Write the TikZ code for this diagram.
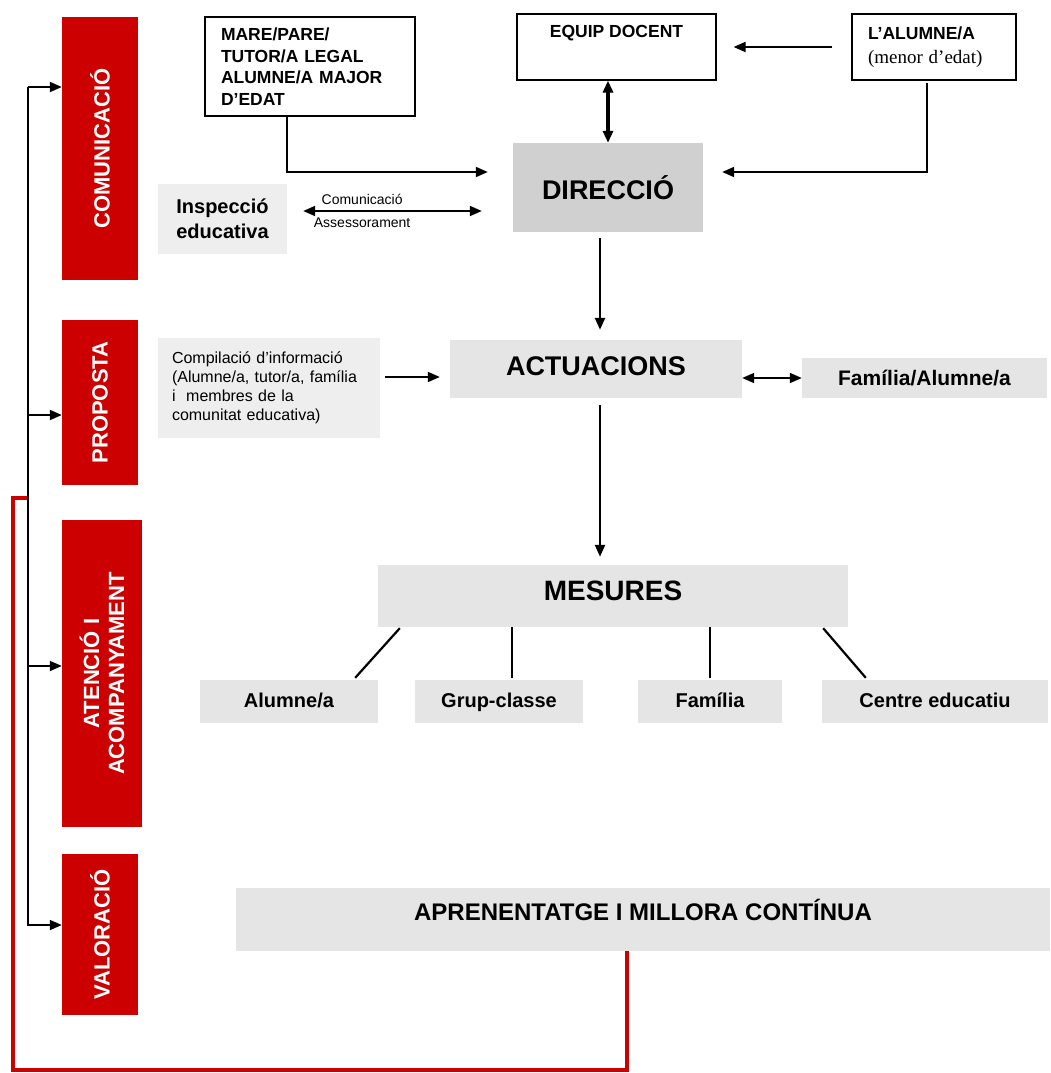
\documentclass[tikz,border=0pt]{standalone}
\usepackage{fontspec}
\setmainfont{Liberation Sans}
\newfontfamily\serifface{Liberation Serif}
\usepackage{tikz}
\usetikzlibrary{positioning}
\usetikzlibrary{arrows.meta, calc}
\definecolor{accred}{RGB}{204,0,0}
\definecolor{midgrey}{RGB}{208,208,208}
\definecolor{lightgrey}{RGB}{229,229,229}
\definecolor{palegrey}{RGB}{238,238,238}
\def\sz(#1/#2){\fontsize{#1pt}{#2pt}\selectfont}
\tikzstyle{stage} = [rectangle, fill=accred, text=white, rotate=90, align=center, inner sep=0pt, font=\bfseries\sz(22/25)]
\tikzstyle{whitebox} = [rectangle, draw=black, line width=1.2pt, inner sep=0pt]
\tikzstyle{greybox} = [rectangle, fill=lightgrey, inner sep=0pt, align=center]
\tikzstyle{subbox} = [greybox, minimum height=43pt, text height=15pt, text depth=4pt, font=\bfseries\sz(20/24)]
\tikzstyle{arrow} = [line width=1.8pt, -{Triangle[length=12pt,width=10pt]}]
\tikzstyle{darrow} = [line width=1.8pt, {Triangle[length=12pt,width=10pt]}-{Triangle[length=12pt,width=10pt]}]
\tikzstyle{branch} = [line width=2.2pt]
\tikzstyle{loopline} = [draw=accred, line width=3.2pt]

\begin{document}
\begin{tikzpicture}[x=1pt, y=-1pt]
\path[use as bounding box, fill=white] (0,0) rectangle (1050,1073);
% stages
\node[stage, minimum width=263pt, minimum height=76pt] (com) at (100,148.5) {COMUNICACIÓ};
\node[stage, minimum width=165pt, minimum height=76pt] (prop) at (100,402.5) {PROPOSTA};
\node[stage, minimum width=307pt, minimum height=80pt] (aten) at (102,673.5) {ATENCIÓ I\\ACOMPANYAMENT};
\node[stage, minimum width=161pt, minimum height=76pt] (val) at (100,934.5) {VALORACIÓ};
% boxes
\node[whitebox, minimum width=210pt, minimum height=99pt, text width=178pt, align=left, font=\bfseries\sz(17.5/21.5)] (mare) at (310,66.5) {MARE/PARE/\\TUTOR/A LEGAL\\ALUMNE/A MAJOR\\D’EDAT};
\node[whitebox, minimum width=199pt, minimum height=66pt, align=center, font=\bfseries\sz(17.5/24)] (equip) at (616.5,47) {EQUIP DOCENT\\\strut};
\node[whitebox, minimum width=164pt, minimum height=66pt, text width=132pt, align=left, font=\bfseries\sz(17.5/24)] (alum) at (934,47) {L’ALUMNE/A\\{\serifface\mdseries\sz(19/24)(menor d’edat)}};
\node[greybox, fill=midgrey, minimum width=190pt, minimum height=89pt, font=\bfseries\sz(27/30)] (dir) at (608,187.5) {DIRECCIÓ};
\node[greybox, fill=palegrey, minimum width=129pt, minimum height=70pt, font=\bfseries\sz(20/25)] (insp) at (222.5,219) {Inspecció\\educativa};
\node[greybox, fill=palegrey, minimum width=222pt, minimum height=100pt, text width=194pt, align=left, font=\sz(16/19)] (comp) at (269,388) {Compilació d’informació\\(Alumne/a, tutor/a, família\\i\ \ membres de la\\comunitat educativa)};
\node[greybox, minimum width=292pt, minimum height=58pt, text depth=6pt, font=\bfseries\sz(27/30)] (act) at (596,369) {ACTUACIONS};
\node[greybox, minimum width=245pt, minimum height=40pt, font=\bfseries\sz(21/24)] (fam) at (924.5,378) {Família/Alumne/a};
\node[greybox, minimum width=470pt, minimum height=62pt, text depth=10pt, font=\bfseries\sz(28/32)] (mes) at (613,596) {MESURES};
\node[subbox, minimum width=178pt] (s1) at (289,701.5) {Alumne/a};
\node[subbox, minimum width=168pt] (s2) at (499,701.5) {Grup-classe};
\node[subbox, minimum width=144pt] (s3) at (710,701.5) {Família};
\node[subbox, minimum width=226pt] (s4) at (935,701.5) {Centre educatiu};
\node[greybox, minimum width=814pt, minimum height=63pt, text depth=19pt, font=\bfseries\sz(24/28)] (apr) at (643,919.5) {APRENENTATGE I MILLORA CONTÍNUA};
% connectors
\draw[arrow] ([xshift=-23pt]mare.south) |- ([xshift=-25pt,yshift=15.5pt]dir.west);
\draw[arrow] ([xshift=-7pt,yshift=-2pt]alum.south) |- ([xshift=19pt,yshift=15.5pt]dir.east);
\draw[arrow] ([xshift=-19pt]alum.west) -- ([xshift=17pt]equip.east);
\draw[darrow, line width=3.5pt] (equip.south -| dir.north) -- (dir.north);
\draw[darrow] ([xshift=16pt,yshift=8pt]insp.east) -- node[pos=0.33, above=2pt, font=\sz(14/16)] {Comunicació} node[pos=0.33, below=3pt, font=\sz(14/16)] {Assessorament} ([xshift=-31pt,yshift=-23.5pt]dir.west);
\draw[arrow] ([xshift=5pt,yshift=11pt]comp.east) -- ([xshift=-10pt,yshift=-8pt]act.west);
\draw[darrow] (act.east |- fam.west) -- (fam.west);
\draw[arrow, line width=2.4pt] ([xshift=-8pt,yshift=-6pt]dir.south) -- ([xshift=4pt,yshift=10pt]act.north);
\draw[arrow, line width=2.4pt] ([xshift=4pt,yshift=-7pt]act.south) -- ([xshift=-13pt,yshift=8pt]mes.north);
\draw[branch] ([xshift=22pt,yshift=-1pt]mes.south west) -- ([xshift=-23pt,yshift=2pt]s1.north east);
\draw[branch] ([xshift=13pt,yshift=2pt]s2.north) -- ([xshift=13pt]s2.north |- mes.south);
\draw[branch] ([yshift=2pt]s3.north) -- (s3.north |- mes.south);
\draw[branch] ([xshift=-25pt,yshift=-1pt]mes.south east) -- ([xshift=44pt,yshift=2pt]s4.north west);
% feedback loop
\coordinate (rloop) at (28,498);
\coordinate (rcorner) at (13,1070);
\draw[loopline] ([xshift=-16pt]apr.south) |- (rcorner) |- (rloop);
\coordinate (rtop) at (28,87);
\coordinate (rprop) at (28,415);
\coordinate (raten) at (28,666);
\coordinate (rbot) at (28,925);
\draw[arrow] (rtop) -- (rtop -| com.north);
\draw[arrow] (rprop) -- (rprop -| prop.north);
\draw[arrow] (raten) -- (raten -| aten.north);
\draw[arrow] (rtop) -- (rbot) -- (rbot -| val.north);
\end{tikzpicture}
\end{document}
